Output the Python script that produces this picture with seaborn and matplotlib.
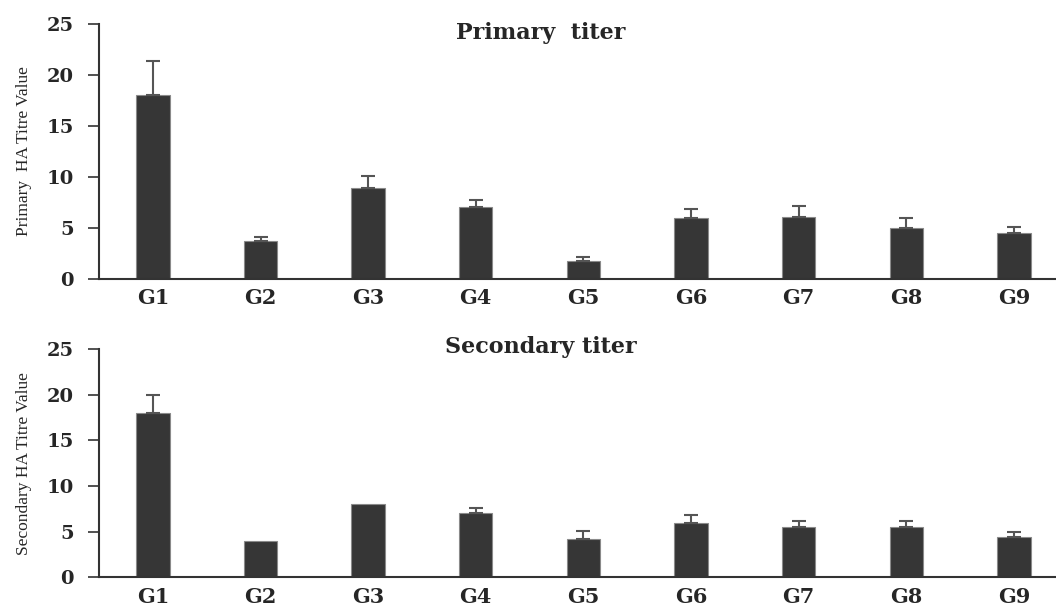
import numpy as np
import pandas as pd
import seaborn as sns
import matplotlib.pyplot as plt

groups = ['G1', 'G2', 'G3', 'G4', 'G5', 'G6', 'G7', 'G8', 'G9']
primary = [18.0, 3.75, 8.9, 7.0, 1.75, 6.0, 6.1, 5.0, 4.5]
primary_err = [3.35, 0.3, 1.15, 0.7, 0.35, 0.8, 1.0, 1.0, 0.6]
secondary = [18.0, 4.0, 8.0, 7.0, 4.2, 5.9, 5.5, 5.5, 4.4]
secondary_err = [2.0, 0.0, 0.0, 0.65, 0.9, 0.9, 0.7, 0.7, 0.6]

sns.set_style('white')
plt.rcParams['font.family'] = ['DejaVu Serif', 'Liberation Serif']

fig = plt.figure(figsize=(10.56, 6.08), dpi=100)
ax1 = fig.add_axes([0.0938, 0.5416, 0.9062, 0.4189])
ax2 = fig.add_axes([0.0938, 0.0505, 0.9062, 0.3750])

panels = [
    (ax1, primary, primary_err, 'Primary  titer', 'Primary  HA Titre Value', 24.1),
    (ax2, secondary, secondary_err, 'Secondary titer', 'Secondary HA Titre Value', 25.2),
]

for ax, vals, errs, title, ylab, ty in panels:
    df = pd.DataFrame({'group': groups, 'value': vals})
    sns.barplot(data=df, x='group', y='value', ax=ax, color='#363636',
                saturation=1, width=0.31, edgecolor='#8a8a8a', linewidth=0.8)
    # upper error bars only
    idx = [i for i, e in enumerate(errs) if e > 0]
    ax.errorbar(idx, [vals[i] for i in idx],
                yerr=[[0] * len(idx), [errs[i] for i in idx]],
                fmt='none', ecolor='#555555', elinewidth=1.5, capsize=5,
                capthick=1.5, zorder=1)
    ax.set_ylim(0, 25)
    ax.set_xlim(-0.5, 8.39)
    ax.set_yticks([0, 5, 10, 15, 20, 25])
    ax.set_xlabel('')
    ax.set_ylabel(ylab, fontsize=12.5, family='Liberation Serif')
    ax.yaxis.set_label_coords(-0.07, 0.5)
    ax.text(0.462, ty, title, transform=ax.get_yaxis_transform(),
            ha='center', va='center', fontsize=16, fontweight='bold',
            clip_on=False)
    sns.despine(ax=ax)
    for s in ['left', 'bottom']:
        ax.spines[s].set_color('#333333')
        ax.spines[s].set_linewidth(1.5)
    ax.tick_params(axis='y', direction='out', length=8, width=1.2,
                   color='#333333', labelsize=14, pad=10, left=True)
    ax.tick_params(axis='x', length=0, labelsize=15, pad=7)
    for lab in ax.get_xticklabels() + ax.get_yticklabels():
        lab.set_fontweight('bold')

fig.savefig('out.png', dpi=100)
